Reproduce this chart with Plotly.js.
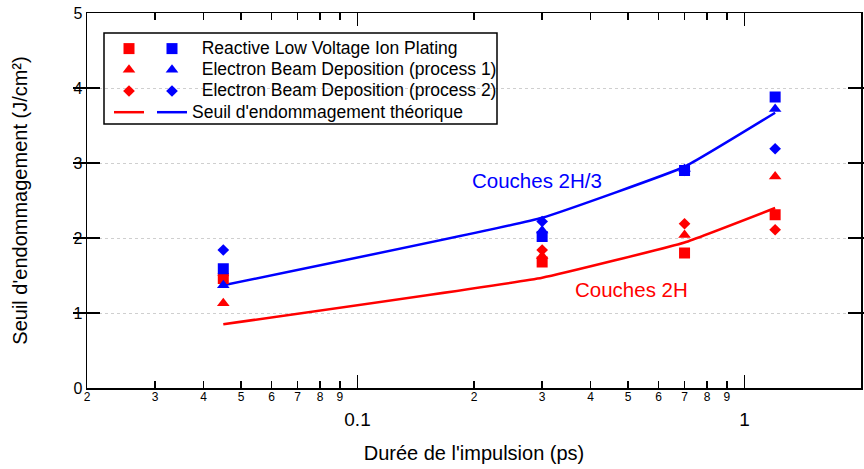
<!DOCTYPE html>
<html>
<head>
<meta charset="utf-8">
<script src="https://cdn.plot.ly/plotly-3.0.1.min.js"></script>
<style>html,body{margin:0;padding:0;background:#fff;}#chart{width:864px;height:469px;}</style>
</head>
<body>
<div id="chart"></div>
<script>
// Pulse duration (ps)
const duration = [0.045, 0.3, 0.7, 1.2];

// Damage thresholds (J/cm²) — red: 2H layers, blue: 2H/3 layers
const rlvipRed  = [1.46, 1.68, 1.80, 2.31];
const rlvipBlue = [1.59, 2.02, 2.90, 3.88];
const ebd1Red   = [1.13, 1.76, 2.04, 2.82];
const ebd1Blue  = [1.37, 2.10, 2.92, 3.72];
const ebd2Red   = [1.50, 1.84, 2.19, 2.11];
const ebd2Blue  = [1.84, 2.22, 2.90, 3.19];
const theory2H  = [0.85, 1.47, 1.94, 2.40];
const theory2H3 = [1.37, 2.27, 2.95, 3.67];

// Axis ticks
const majorTickVals = [0.1, 1];
const majorTickText = ["0.1", "1"];
const minorTickVals = [0.02,0.03,0.04,0.05,0.06,0.07,0.08,0.09,0.2,0.3,0.4,0.5,0.6,0.7,0.8,0.9,2];
const minorTickText = ["2","3","4","5","6","7","8","9","2","3","4","5","6","7","8","9","2"];
const yTickVals = [0,1,2,3,4,5];

const legendNames = [
  "Reactive Low Voltage Ion Plating",
  "Electron Beam Deposition (process 1)",
  "Electron Beam Deposition (process 2)",
  "Seuil d'endommagement théorique"
];

const RED = "#ff0000", BLUE = "#0000ff";
const span = (s, pad) => "<span style='font-size:17.5px'>" + pad + s + "</span>";
const PAD = "&nbsp;&nbsp;";

function markers(y, color, symbol, size, name, legend, rank) {
  return {x: duration, y: y, type: "scatter", mode: "markers",
    marker: {color: color, symbol: symbol, size: size, line: {width: 0}},
    name: name, legend: legend, legendrank: rank, hoverinfo: "x+y"};
}
function line(y, color, name, legend, rank) {
  return {x: duration, y: y, type: "scatter", mode: "lines",
    line: {color: color, width: 2.5, shape: "spline", smoothing: 0.3},
    name: name, legend: legend, legendrank: rank};
}

const data = [
  line(theory2H, RED, " ", "legend", 4),
  line(theory2H3, BLUE, span(legendNames[3], ""), "legend2", 4),
  markers(ebd2Red, RED, "diamond", 9, " ", "legend", 3),
  markers(rlvipRed, RED, "square", 11, " ", "legend", 1),
  markers(rlvipBlue, BLUE, "square", 11, span(legendNames[0], PAD), "legend2", 1),
  markers(ebd1Red, RED, "triangle-up", 11, " ", "legend", 2),
  markers(ebd1Blue, BLUE, "triangle-up", 11, span(legendNames[1], PAD), "legend2", 2),
  markers(ebd2Blue, BLUE, "diamond", 9, span(legendNames[2], PAD), "legend2", 3),
  // invisible carrier so the secondary (minor-label) x axis is drawn
  {x: duration, y: theory2H, xaxis: "x2", yaxis: "y", type: "scatter", mode: "markers",
   marker: {opacity: 0, size: 1}, showlegend: false, hoverinfo: "skip"}
];

const L = 87, R = 861, T = 13, B = 388;
const px2x = p => (p - L) / (R - L);
const px2y = p => (B - p) / (B - T);

const legendCommon = {xanchor: "left", yanchor: "top", bgcolor: "rgba(0,0,0,0)",
  borderwidth: 0, font: {family: "Liberation Sans, Arial, sans-serif", size: 14, color: "#000"},
  itemwidth: 30, tracegroupgap: 0, traceorder: "normal"};

const layout = {
  width: 864, height: 469,
  margin: {l: L, r: 864 - R, t: T, b: 469 - B},
  paper_bgcolor: "#fff", plot_bgcolor: "#fff",
  font: {family: "Liberation Sans, Arial, sans-serif", color: "#000"},
  showlegend: true,
  xaxis: {
    type: "log", range: [Math.log10(0.02), Math.log10(2)],
    tickmode: "array", tickvals: majorTickVals, ticktext: majorTickText,
    ticks: "inside", ticklen: 13, tickwidth: 1.5, tickcolor: "#000",
    tickfont: {size: 19}, ticklabelstandoff: 14,
    showline: true, linewidth: 1.5, linecolor: "#000", mirror: "allticks",
    showgrid: false, zeroline: false,
    title: {text: "Durée de l'impulsion (ps)", font: {size: 20}, standoff: 16}
  },
  xaxis2: {
    type: "log", range: [Math.log10(0.02), Math.log10(2)], overlaying: "x", anchor: "y", side: "bottom",
    tickmode: "array", tickvals: minorTickVals, ticktext: minorTickText,
    ticks: "inside", ticklen: 7, tickwidth: 1.5, tickcolor: "#000",
    tickfont: {size: 12}, mirror: "ticks", showline: false, showgrid: false, zeroline: false
  },
  yaxis: {
    range: [0, 5], tickmode: "array", tickvals: yTickVals,
    ticks: "inside", ticklen: 13, tickwidth: 1.5, tickcolor: "#000",
    tickfont: {size: 16},
    showline: true, linewidth: 1.5, linecolor: "#000", mirror: "allticks",
    showgrid: true, gridcolor: "#cfcfcf", griddash: "dot", gridwidth: 1, zeroline: false,
    title: {text: "Seuil d'endommagement (J/cm²)", font: {size: 20}, standoff: 40}
  },
  legend: Object.assign({}, legendCommon, {x: px2x(109), y: px2y(33)}),
  legend2: Object.assign({}, legendCommon, {x: px2x(152), y: px2y(33)}),
  shapes: [{type: "rect", xref: "paper", yref: "paper",
    x0: px2x(104), x1: px2x(497), y0: px2y(124), y1: px2y(33),
    line: {color: "#000", width: 1.5}, fillcolor: "rgba(0,0,0,0)"}],
  annotations: [
    {xref: "x", yref: "y", x: Math.log10(0.291), y: 2.77, text: "Couches 2H/3", showarrow: false,
     font: {size: 20.5, color: BLUE}},
    {xref: "x", yref: "y", x: Math.log10(0.51), y: 1.31, text: "Couches 2H", showarrow: false,
     font: {size: 20.5, color: RED}}
  ]
};

Plotly.newPlot("chart", data, layout, {displayModeBar: false, staticPlot: true});
</script>
</body>
</html>
